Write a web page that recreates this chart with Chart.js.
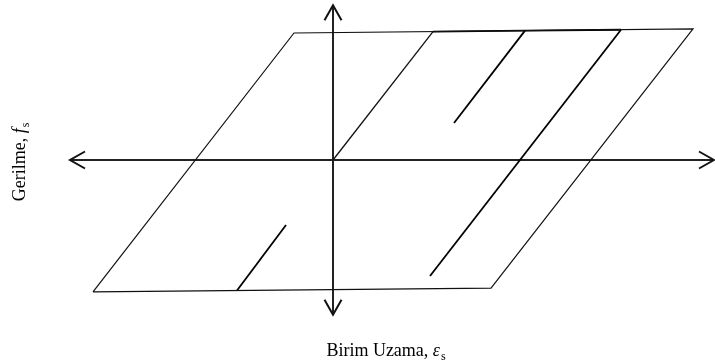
<!DOCTYPE html>
<html>
<head>
<meta charset="utf-8">
<script src="https://cdn.jsdelivr.net/npm/chart.js@4/dist/chart.umd.min.js"></script>
<style>
  html, body { margin: 0; padding: 0; background: #fff; }
  #wrap { width: 715px; height: 360px; }
</style>
</head>
<body>
<div id="wrap"><canvas id="c" width="715" height="360"></canvas></div>
<script>
// Strain (ε_s) and stress (f_s) in normalised units, origin at the axis crossing
const envelopeStrain = [-2.40, -0.39, 3.60, 1.58, -2.40];
const envelopeStress = [-1.015, 0.977, 1.008, -0.985, -1.015];

const loadStrain = [0, 1.00];
const loadStress = [0, 0.988];

const yieldStrain = [1.00, 1.92, 2.88];
const yieldStress = [0.988, 0.995, 1.002];

const reloadAStrain = [1.21, 1.92];
const reloadAStress = [0.285, 0.995];

const reloadBStrain = [0.97, 2.88];
const reloadBStress = [-0.892, 1.002];

const reloadCStrain = [-0.96, -0.47];
const reloadCStress = [-1.004, -0.50];

const axisXStrain = [-2.63, 3.81];
const axisYStress = [1.19, -1.19];

const xLabel = ['Birim Uzama, ', 'ε', 's'];
const yLabel = ['Gerilme, ', 'f', 's'];

function pts(xs, ys) { return xs.map((x, i) => ({ x: x, y: ys[i] })); }

function lineSet(data, width, color) {
  return {
    data: data, showLine: true, borderColor: color, borderWidth: width,
    pointRadius: 0, fill: false, tension: 0, clip: false
  };
}

const datasets = [
  lineSet(pts(envelopeStrain, envelopeStress), 1.2, '#111'),
  lineSet(pts(yieldStrain, yieldStress), 1.8, '#000'),
  lineSet(pts(loadStrain, loadStress), 1.3, '#111'),
  lineSet(pts(reloadAStrain, reloadAStress), 1.8, '#000'),
  lineSet(pts(reloadBStrain, reloadBStress), 1.8, '#000'),
  lineSet(pts(reloadCStrain, reloadCStress), 1.8, '#000'),
  lineSet(pts(axisXStrain, [0, 0]), 2, '#222'),
  lineSet(pts([0, 0], axisYStress), 2, '#222')
];

// Open arrowheads at both ends of each axis, plus the axis titles
const arrowsAndTitles = {
  id: 'arrowsAndTitles',
  afterDatasetsDraw(chart) {
    const ctx = chart.ctx;
    const xs = chart.scales.x, ys = chart.scales.y;
    const head = (tx, ty, dx, dy) => {
      const len = 15, half = 8.5;
      const bx = tx - dx * len, by = ty - dy * len;
      const nx = -dy, ny = dx;
      ctx.beginPath();
      ctx.moveTo(bx + nx * half, by + ny * half);
      ctx.lineTo(tx, ty);
      ctx.lineTo(bx - nx * half, by - ny * half);
      ctx.stroke();
    };
    ctx.save();
    ctx.strokeStyle = '#111';
    ctx.lineWidth = 2;
    ctx.lineJoin = 'miter';
    const y0 = ys.getPixelForValue(0), x0 = xs.getPixelForValue(0);
    head(xs.getPixelForValue(axisXStrain[0]), y0, -1, 0);
    head(xs.getPixelForValue(axisXStrain[1]), y0, 1, 0);
    head(x0, ys.getPixelForValue(axisYStress[0]), 0, -1);
    head(x0, ys.getPixelForValue(axisYStress[1]), 0, 1);

    const drawTitle = (parts, cx, baseY) => {
      const fMain = '18px "Liberation Serif", "Times New Roman", serif';
      const fIt = 'italic 18px "Liberation Serif", "Times New Roman", serif';
      const fSub = '12px "Liberation Serif", "Times New Roman", serif';
      ctx.font = fMain; const w0 = ctx.measureText(parts[0]).width;
      ctx.font = fIt; const w1 = ctx.measureText(parts[1]).width;
      ctx.font = fSub; const w2 = ctx.measureText(parts[2]).width;
      let x = cx - (w0 + w1 + 1 + w2) / 2;
      ctx.fillStyle = '#000';
      ctx.textBaseline = 'alphabetic';
      ctx.textAlign = 'left';
      ctx.font = fMain; ctx.fillText(parts[0], x, baseY); x += w0;
      ctx.font = fIt; ctx.fillText(parts[1], x, baseY); x += w1 + 1;
      ctx.font = fSub; ctx.fillText(parts[2], x, baseY + 4);
    };
    drawTitle(xLabel, 386, 356);
    ctx.translate(25, 162);
    ctx.rotate(-Math.PI / 2);
    drawTitle(yLabel, 0, 0);
    ctx.restore();
  }
};

new Chart(document.getElementById('c'), {
  type: 'scatter',
  data: { datasets: datasets },
  options: {
    responsive: false,
    animation: false,
    events: [],
    layout: { padding: 0 },
    plugins: { legend: { display: false }, tooltip: { enabled: false }, title: { display: false } },
    scales: {
      x: { type: 'linear', display: false, min: -3.33, max: 3.82 },
      y: { type: 'linear', display: false, min: -1.5385, max: 1.2308 }
    }
  },
  plugins: [arrowsAndTitles]
});
</script>
</body>
</html>
